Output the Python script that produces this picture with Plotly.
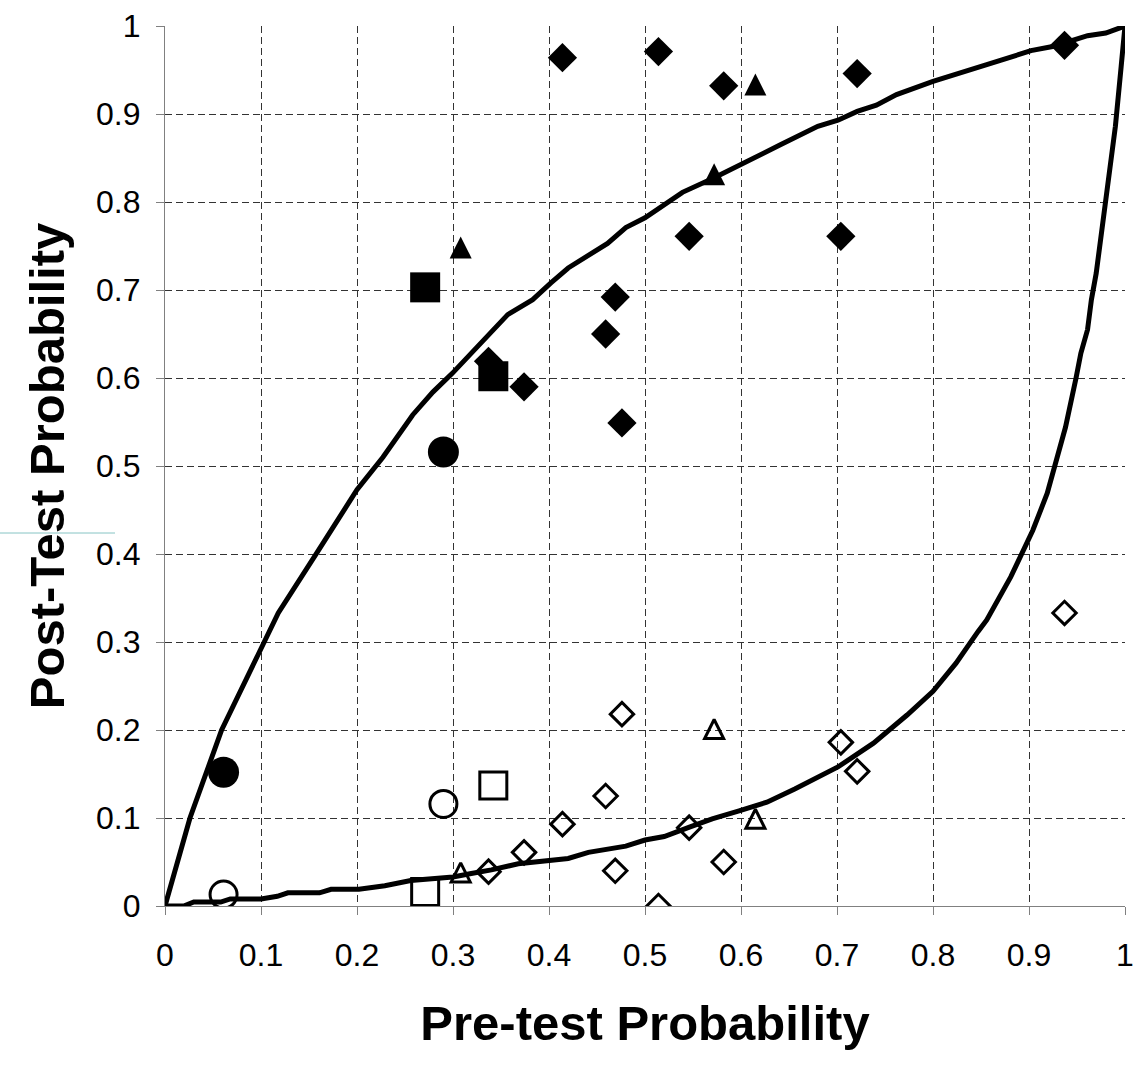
import plotly.graph_objects as go

# ---------------- data ----------------
tick_vals = [0, 0.1, 0.2, 0.3, 0.4, 0.5, 0.6, 0.7, 0.8, 0.9, 1]
tick_text = ["0", "0.1", "0.2", "0.3", "0.4", "0.5", "0.6", "0.7", "0.8", "0.9", "1"]

# upper (positive test) reference curve
upper_x = [0, 0.026, 0.059, 0.09, 0.118, 0.158, 0.2, 0.227, 0.258, 0.279, 0.299, 0.357,
           0.383, 0.402, 0.42, 0.461, 0.48, 0.5, 0.539, 0.571, 0.617, 0.641, 0.68, 0.701,
           0.721, 0.741, 0.762, 0.8, 0.856, 0.902, 0.926, 0.961, 0.98, 1]
upper_y = [0, 0.1, 0.2, 0.27, 0.333, 0.401, 0.473, 0.51, 0.558, 0.584, 0.605, 0.672,
           0.689, 0.708, 0.725, 0.753, 0.771, 0.782, 0.811, 0.827, 0.853, 0.865, 0.886, 0.893,
           0.903, 0.91, 0.922, 0.937, 0.956, 0.972, 0.977, 0.989, 0.992, 1]

# lower (negative test) reference curve
lower_x = [0, 0.0195, 0.03, 0.058, 0.068, 0.10, 0.117, 0.128, 0.161, 0.173, 0.202, 0.229,
           0.256, 0.288, 0.30, 0.319, 0.34, 0.368, 0.403, 0.42, 0.441, 0.48, 0.5, 0.52,
           0.547, 0.57, 0.598, 0.627, 0.656, 0.701, 0.738, 0.773, 0.8, 0.824, 0.847, 0.856,
           0.881, 0.892, 0.904, 0.919, 0.927, 0.938, 0.949, 0.954, 0.961, 0.965, 0.97,
           0.979, 0.99, 0.996, 1]
lower_y = [0, 0, 0.0045, 0.0045, 0.008, 0.008, 0.011, 0.015, 0.015, 0.019, 0.019, 0.023,
           0.029, 0.031, 0.033, 0.037, 0.041, 0.048, 0.052, 0.054, 0.061, 0.068, 0.075, 0.079,
           0.09, 0.099, 0.108, 0.118, 0.133, 0.158, 0.185, 0.217, 0.244, 0.276, 0.312, 0.325,
           0.374, 0.4, 0.427, 0.469, 0.5, 0.544, 0.6, 0.628, 0.655, 0.689, 0.719,
           0.795, 0.886, 0.954, 1]

pre_circle = [0.061, 0.290]
post_circle_pos = [0.152, 0.516]
post_circle_neg = [0.013, 0.116]

pre_square = [0.271, 0.342]
post_square_pos = [0.703, 0.602]
post_square_neg = [0.016, 0.137]

pre_triangle = [0.308, 0.572, 0.615]
post_triangle_pos = [0.749, 0.832, 0.934]
post_triangle_neg = [0.037, 0.200, 0.098]

pre_diamond = [0.337, 0.374, 0.414, 0.459, 0.469, 0.476, 0.514, 0.546, 0.582, 0.704, 0.721, 0.937]
post_diamond_pos = [0.619, 0.590, 0.964, 0.650, 0.692, 0.549, 0.971, 0.761, 0.932, 0.761, 0.946, 0.978]
post_diamond_neg = [0.039, 0.061, 0.093, 0.125, 0.040, 0.218, 0.000, 0.089, 0.050, 0.186, 0.153, 0.333]

# ---------------- figure ----------------
W, H = 1136, 1071
ML, MR, MT, MB = 165, 11, 26, 165
plot_h = H - MT - MB
FONT = "Liberation Sans, Arial, sans-serif"

fig = go.Figure()

line_style = dict(color="black", width=5)
fig.add_trace(go.Scatter(x=upper_x, y=upper_y, mode="lines", line=line_style, hoverinfo="skip"))
fig.add_trace(go.Scatter(x=lower_x, y=lower_y, mode="lines", line=line_style, hoverinfo="skip"))

open_line = dict(color="black", width=3)

# diamonds
fig.add_trace(go.Scatter(x=pre_diamond, y=post_diamond_neg, mode="markers",
                         marker=dict(symbol="diamond-open", size=18, color="black", line=open_line)))
fig.add_trace(go.Scatter(x=pre_diamond, y=post_diamond_pos, mode="markers",
                         marker=dict(symbol="diamond", size=22.5, color="black", line=dict(width=0))))
# squares
fig.add_trace(go.Scatter(x=pre_square, y=post_square_neg, mode="markers",
                         marker=dict(symbol="square-open", size=27, color="black", line=open_line)))
fig.add_trace(go.Scatter(x=pre_square, y=post_square_pos, mode="markers",
                         marker=dict(symbol="square", size=30, color="black", line=dict(width=0))))
# circles
fig.add_trace(go.Scatter(x=pre_circle, y=post_circle_neg, mode="markers",
                         marker=dict(symbol="circle-open", size=27, color="black", line=open_line)))
fig.add_trace(go.Scatter(x=pre_circle, y=post_circle_pos, mode="markers",
                         marker=dict(symbol="circle", size=31, color="black", line=dict(width=0))))
# triangles: drawn on an overlaid axis shifted by half the marker height so the
# (apex-anchored) marker is centred on its value
TRI_SHIFT = 10.5 / plot_h
fig.add_trace(go.Scatter(x=pre_triangle, y=post_triangle_neg, mode="markers", yaxis="y2",
                         marker=dict(symbol="arrow-up-open", size=19, color="black", line=open_line)))
fig.add_trace(go.Scatter(x=pre_triangle, y=post_triangle_pos, mode="markers", yaxis="y2",
                         marker=dict(symbol="arrow-up", size=22, color="black", line=dict(width=0))))

grid = dict(showgrid=True, gridcolor="#333333", gridwidth=1, griddash="7px,4px")
axis_common = dict(
    range=[0, 1], tickvals=tick_vals, ticktext=tick_text,
    ticks="outside", ticklen=8, tickcolor="#808080", tickwidth=1,
    showline=True, linecolor="#808080", linewidth=1.2, zeroline=False,
    tickfont=dict(family=FONT, size=32, color="black"),
    automargin=False, fixedrange=True, **grid,
)

fig.update_layout(
    width=W, height=H,
    margin=dict(l=ML, r=MR, t=MT, b=MB, pad=0),
    paper_bgcolor="white", plot_bgcolor="white",
    showlegend=False,
    xaxis=dict(**axis_common, ticklabelstandoff=12,
               title=dict(text="Pre-test Probability", standoff=34,
                          font=dict(family=FONT, size=49, color="black", weight="bold"))),
    yaxis=dict(**axis_common, ticklabelstandoff=9,
               title=dict(text="Post-Test Probability", standoff=15,
                          font=dict(family=FONT, size=49, color="black", weight="bold"))),
    yaxis2=dict(overlaying="y", range=[-TRI_SHIFT, 1 - TRI_SHIFT], visible=False, fixedrange=True),
    shapes=[dict(type="line", xref="paper", yref="paper",
                 x0=-ML / (W - ML - MR), x1=-50 / (W - ML - MR),
                 y0=(906 - 533) / plot_h, y1=(906 - 533) / plot_h,
                 line=dict(color="#86c4c4", width=1))],
)

fig.write_html("out.html")
